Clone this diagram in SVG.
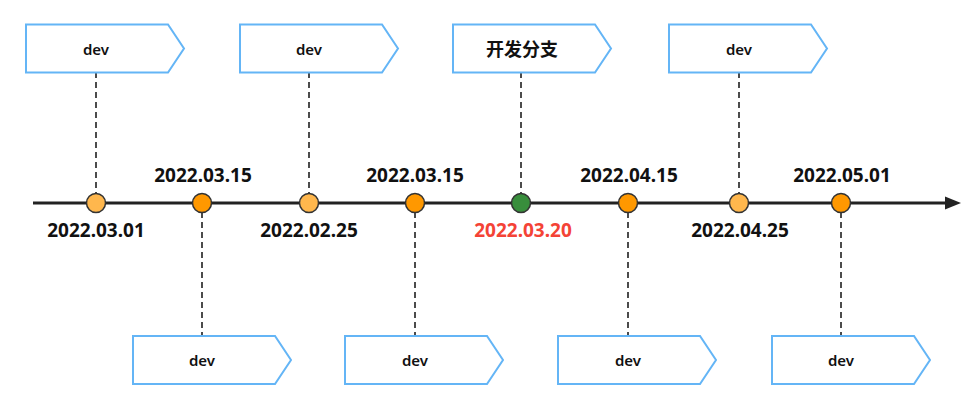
<svg xmlns="http://www.w3.org/2000/svg" width="980" height="408" viewBox="0 0 980 408">
<style>
.box{fill:#fff;stroke:#64B5F6;stroke-width:2}
.lbl{font-family:"Noto Sans","Noto Sans CJK SC",sans-serif;font-weight:600;font-size:15px;fill:#111;text-anchor:middle}
.cjk{font-size:18px}
.date{font-family:"Noto Sans","Noto Sans CJK SC",sans-serif;font-weight:bold;font-size:19px;fill:#111;text-anchor:middle}
.red{fill:#F44336}
.dash{stroke:#111;stroke-width:1.5;stroke-dasharray:6 4;fill:none}
.axis{stroke:#222;stroke-width:3;fill:none}
.c{stroke:#333;stroke-width:1.5}
.lo{fill:#FFB74D}
.do{fill:#FF9800}
.gr{fill:#388E3C}
</style>
<defs>
<path id="tag" d="M0,0 H142 L158,24 L142,48 H0 Z"/>
</defs>
<g id="connectors">
<line class="axis" x1="33" y1="203" x2="948" y2="203"/>
<polygon points="945,196.5 961,203 945,209.5" fill="#222"/>
<line class="dash" x1="96" y1="72" x2="96" y2="194"/>
<line class="dash" x1="309" y1="72" x2="309" y2="194"/>
<line class="dash" x1="521" y1="72" x2="521" y2="194"/>
<line class="dash" x1="739" y1="72" x2="739" y2="194"/>
<line class="dash" x1="202" y1="212" x2="202" y2="336"/>
<line class="dash" x1="415" y1="212" x2="415" y2="336"/>
<line class="dash" x1="628" y1="212" x2="628" y2="336"/>
<line class="dash" x1="841" y1="212" x2="841" y2="336"/>
</g>
<g id="top1"><use href="#tag" class="box" x="26" y="24.5"/><text class="lbl" x="96" y="55">dev</text></g>
<g id="top2"><use href="#tag" class="box" x="240" y="24.5"/><text class="lbl" x="309" y="55">dev</text></g>
<g id="top3"><use href="#tag" class="box" x="453" y="24.5"/><text class="lbl cjk" x="522" y="56">开发分支</text></g>
<g id="top4"><use href="#tag" class="box" x="669" y="24.5"/><text class="lbl" x="739" y="55">dev</text></g>
<g id="bot1"><use href="#tag" class="box" x="133" y="336"/><text class="lbl" x="202" y="366">dev</text></g>
<g id="bot2"><use href="#tag" class="box" x="345" y="336"/><text class="lbl" x="415" y="366">dev</text></g>
<g id="bot3"><use href="#tag" class="box" x="558" y="336"/><text class="lbl" x="628" y="366">dev</text></g>
<g id="bot4"><use href="#tag" class="box" x="772" y="336"/><text class="lbl" x="841" y="366">dev</text></g>
<g id="p1"><circle class="c lo" cx="96" cy="203" r="9.5"/><text class="date" x="96" y="237">2022.03.01</text></g>
<g id="p2"><circle class="c do" cx="202" cy="203" r="9.5"/><text class="date" x="203" y="182">2022.03.15</text></g>
<g id="p3"><circle class="c lo" cx="309" cy="203" r="9.5"/><text class="date" x="309" y="237">2022.02.25</text></g>
<g id="p4"><circle class="c do" cx="415" cy="203" r="9.5"/><text class="date" x="415" y="182">2022.03.15</text></g>
<g id="p5"><circle class="c gr" cx="521" cy="203" r="9.5"/><text class="date red" x="523" y="237">2022.03.20</text></g>
<g id="p6"><circle class="c do" cx="628" cy="203" r="9.5"/><text class="date" x="629" y="182">2022.04.15</text></g>
<g id="p7"><circle class="c lo" cx="739" cy="203" r="9.5"/><text class="date" x="740" y="237">2022.04.25</text></g>
<g id="p8"><circle class="c do" cx="841" cy="203" r="9.5"/><text class="date" x="842" y="182">2022.05.01</text></g>
</svg>
